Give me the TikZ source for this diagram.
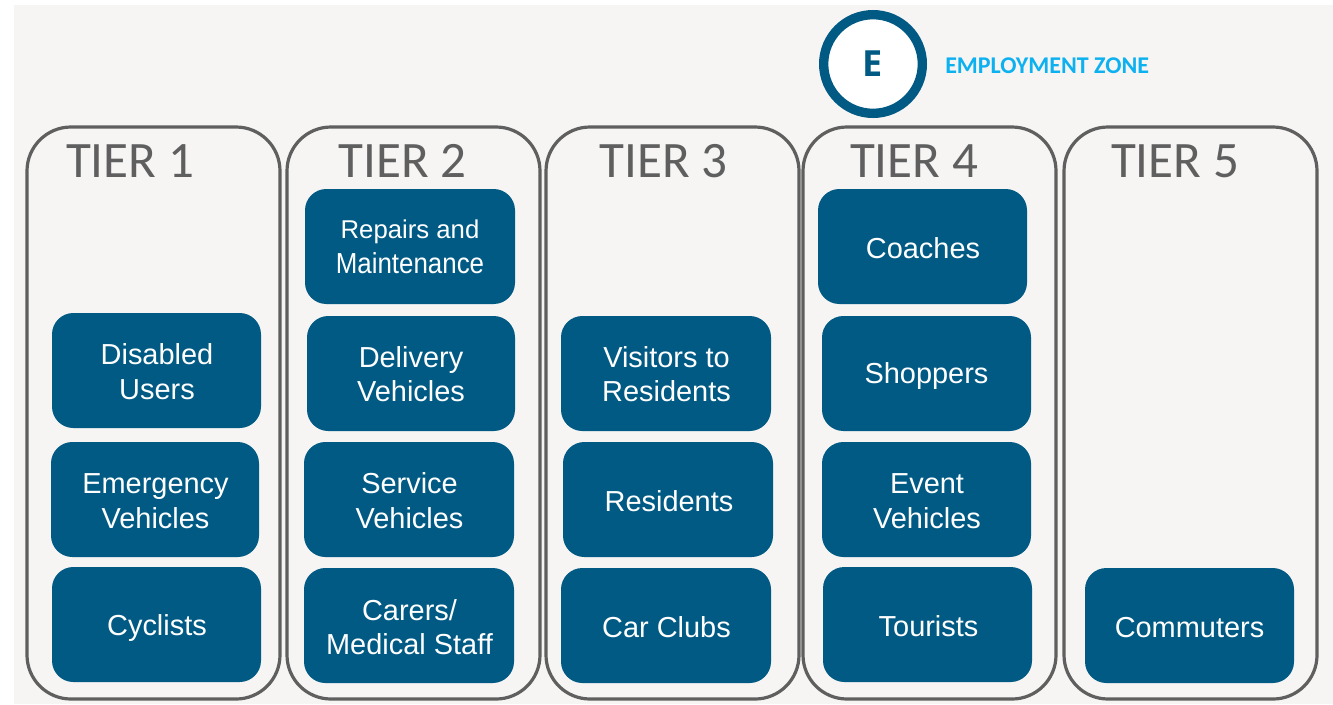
\documentclass[tikz,border=0pt]{standalone}
\usepackage{fontspec}
\usepackage{graphicx}
\setmainfont{Liberation Sans}
\newfontfamily\carl{Carlito}
\newfontfamily\opens{Open Sans}
\definecolor{bluebox}{HTML}{005A84}
\definecolor{bgpanel}{HTML}{F6F5F3}
\definecolor{tierline}{HTML}{5F5F5F}
\definecolor{skytext}{HTML}{0DB1F0}
\tikzset{
  x=0.75pt,y=-0.75pt,
  item/.style={fill=bluebox,draw=none,rounded corners=16pt,inner sep=0pt},
  itemtext/.style={text=white,align=center,inner sep=0pt,font=\fontsize{21.7}{26}\selectfont},
  tierbox/.style={draw=tierline,line width=2.4pt,rounded corners=33pt,fill=bgpanel,inner sep=0pt},
  tiertitle/.style={text=tierline,font=\carl\fontsize{38.3}{40}\selectfont,inner sep=0pt}
}
\usetikzlibrary{calc}
% name, left, right, top, bottom, text centre x, text centre y, text
\newcommand{\itembox}[8]{%
  \path let \n1={#3-#2},\n2={#5-#4} in
    node[item,minimum width=0.75pt*\n1,minimum height=0.75pt*\n2] (#1) at ({(#2+#3)/2},{(#4+#5)/2}) {};
  \node[itemtext] (#1t) at (#6,#7) {#8};}
\newcommand{\tier}[5]{%
  \path let \n1={#3-#2} in
    node[tierbox,minimum width=0.75pt*\n1,minimum height=429pt] (#1) at ({(#2+#3)/2},413) {};
  \node[tiertitle] (#1t) at (#4,161) {#5};}
\begin{document}
\begin{tikzpicture}
\useasboundingbox (0,0) rectangle (1333,704);
\fill[white] (0,0) rectangle (1333,704);
\fill[bgpanel] (14,5) rectangle (1333,704);
\tier{tA}{27}{280}{130}{TIER 1}
\tier{tB}{287}{540}{402.5}{TIER 2}
\tier{tC}{546}{799}{663.5}{TIER 3}
\tier{tD}{803}{1056}{914}{TIER 4}
\tier{tE}{1064}{1317}{1175}{TIER 5}
\itembox{a1}{52}{261}{313}{428}{157}{371.5}{Disabled\\Users}
\itembox{a2}{51}{259}{442}{557}{155.5}{501.5}{Emergency\\Vehicles}
\itembox{a3}{52}{261}{567}{682}{157}{628.5}{Cyclists}
\itembox{b0}{305}{515}{189}{304}{410}{247}{\fontsize{19.3}{24}\selectfont Repairs and\\\scalebox{0.895}[1]{Maintenance}}
\itembox{b1}{307}{515}{316}{431}{411}{374}{Delivery\\Vehicles}
\itembox{b2}{304}{514}{442}{557}{409.5}{500.5}{Service\\Vehicles}
\itembox{b3}{304}{514}{568}{683}{409.5}{627}{Carers/\\Medical Staff}
\itembox{c1}{561}{771}{316}{431}{666.5}{374}{Visitors to\\Residents}
\itembox{c2}{563}{773}{442}{557}{669}{501}{Residents}
\itembox{c3}{561}{771}{568}{683}{666.5}{627}{Car Clubs}
\itembox{d0}{818}{1027}{189}{304}{923}{248}{Coaches}
\itembox{d1}{822}{1031}{316}{431}{926.5}{376}{Shoppers}
\itembox{d2}{822}{1031}{442}{557}{927}{501.5}{Event\\Vehicles}
\itembox{d3}{823}{1032}{567}{682}{928.5}{626}{Tourists}
\itembox{e3}{1085}{1294}{568}{683}{1189.5}{628}{Commuters}
\node[circle,draw=bluebox,fill=white,line width=7pt,minimum size=74pt,inner sep=0pt,
  text=bluebox,font=\opens\bfseries\fontsize{27}{30}\selectfont] (ez) at (873,64) {E};
\node[anchor=west,inner sep=0pt,text=skytext,font=\carl\bfseries\fontsize{18}{20}\selectfont] (ezl) at (945,66) {EMPLOYMENT ZONE};
\end{tikzpicture}
\end{document}
